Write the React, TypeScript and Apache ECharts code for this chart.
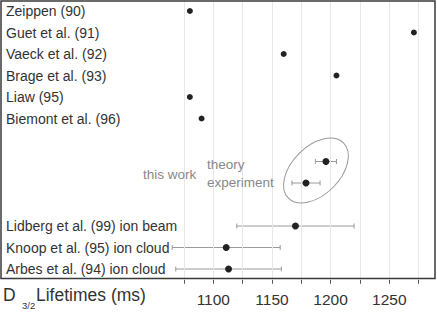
import React, { useEffect, useRef } from "react";
import * as echarts from "echarts";

const categories = [
  "Zeippen (90)",
  "Guet et al. (91)",
  "Vaeck et al. (92)",
  "Brage et al. (93)",
  "Liaw (95)",
  "Biemont et al. (96)",
  " ",
  "theory",
  "experiment",
  "  ",
  "Lidberg et al. (99) ion beam",
  "Knoop et al. (95) ion cloud",
  "Arbes et al. (94) ion cloud",
];
const pointValues: (number | null)[] = [1080, 1271, 1160, 1205, 1080, 1090, null, 1196, 1179, null, 1170, 1111, 1113];
const errLow: (number | null)[] = [null, null, null, null, null, null, null, 1187, 1167, null, 1120, 1065, 1068];
const errHigh: (number | null)[] = [null, null, null, null, null, null, null, 1205, 1191, null, 1220, 1157, 1158];
const gridTicks = [1075, 1100, 1125, 1150, 1175, 1200, 1225, 1250, 1275];
const labelTicks = [1100, 1150, 1200, 1250];
const xMin = 919;
const xMax = 1289;

const FONT = "'Liberation Sans', Arial, Helvetica, sans-serif";

export default function App() {
  const ref = useRef<HTMLDivElement>(null);
  useEffect(() => {
    if (!ref.current) return;
    const chart = echarts.init(ref.current, null, { renderer: "svg" });
    const scatterData = pointValues
      .map((v, i) => (v == null ? null : { value: [v, i], symbolSize: i < 6 ? 6 : 7 }))
      .filter((d) => d != null);
    const errData = errLow
      .map((lo, i) => (lo == null || errHigh[i] == null ? null : [lo, errHigh[i], i]))
      .filter((d) => d != null);
    const hidden = new Set(["theory", "experiment"]);
    chart.setOption({
      animation: false,
      grid: { left: 1, right: 2, top: 0.25, height: 279.5 },
      xAxis: {
        type: "value",
        min: xMin,
        max: xMax,
        axisLine: { show: false },
        splitLine: { show: false },
        axisTick: {
          show: true,
          length: 4,
          customValues: gridTicks,
          lineStyle: { color: "#555", width: 1 },
        },
        axisLabel: {
          customValues: labelTicks,
          margin: 12,
          fontSize: 15.5,
          color: "#333",
          fontFamily: FONT,
          formatter: (v: number) => String(v),
        },
      },
      yAxis: {
        type: "category",
        data: categories,
        inverse: true,
        axisLine: { show: false },
        axisTick: { show: false },
        splitLine: { show: false },
        axisLabel: {
          inside: true,
          interval: 0,
          margin: 5,
          fontSize: 14,
          color: "#333",
          fontFamily: FONT,
          formatter: (v: string) => (hidden.has(v) ? "" : v),
        },
      },
      series: [
        {
          type: "scatter",
          data: [],
          z: 1,
          silent: true,
          markLine: {
            silent: true,
            symbol: ["none", "none"],
            label: { show: false },
            lineStyle: { color: "#e8e8e8", type: "solid", width: 1 },
            data: gridTicks.map((t) => ({ xAxis: t })),
          },
        },
        {
          type: "custom",
          z: 2,
          data: errData,
          encode: { x: [0, 1], y: 2 },
          renderItem: (params: any, api: any) => {
            const lo = api.coord([api.value(0), api.value(2)]);
            const hi = api.coord([api.value(1), api.value(2)]);
            const h = 2.5;
            const st = { stroke: "#9a9a9a", lineWidth: 1 };
            return {
              type: "group",
              children: [
                { type: "line", shape: { x1: lo[0], y1: lo[1], x2: hi[0], y2: hi[1] }, style: st },
                { type: "line", shape: { x1: lo[0], y1: lo[1] - h, x2: lo[0], y2: lo[1] + h }, style: st },
                { type: "line", shape: { x1: hi[0], y1: hi[1] - h, x2: hi[0], y2: hi[1] + h }, style: st },
              ],
            };
          },
        },
        {
          type: "scatter",
          z: 3,
          data: scatterData,
          itemStyle: { color: "#222", opacity: 1 },
        },
      ],
    });
    const cx = chart.convertToPixel({ xAxisIndex: 0 }, 1187.5) as number;
    const y7 = chart.convertToPixel({ yAxisIndex: 0 }, 7) as number;
    const y8 = chart.convertToPixel({ yAxisIndex: 0 }, 8) as number;
    const cy = y7 + (y8 - y7) * 0.42;
    chart.setOption({
      graphic: [
        {
          type: "rect",
          shape: { x: 1, y: 1, width: 434, height: 277.5 },
          style: { fill: "none", stroke: "#3a3a3a", lineWidth: 1.5 },
          z: 100,
          silent: true,
        },
        {
          type: "ellipse",
          x: cx,
          y: cy,
          rotation: Math.PI / 4,
          shape: { cx: 0, cy: 0, rx: 39, ry: 24 },
          style: { fill: "none", stroke: "#999", lineWidth: 1 },
          z: 50,
          silent: true,
        },
        {
          type: "text",
          x: 143,
          y: 174.5,
          style: { text: "this work", fontSize: 13.5, fill: "#888", fontFamily: FONT, verticalAlign: "middle" },
          z: 50,
        },
        {
          type: "text",
          x: 207,
          y: 164,
          style: { text: "theory", fontSize: 13.5, fill: "#888", fontFamily: FONT, verticalAlign: "middle" },
          z: 50,
        },
        {
          type: "text",
          x: 207,
          y: 182,
          style: { text: "experiment", fontSize: 13.5, fill: "#888", fontFamily: FONT, verticalAlign: "middle" },
          z: 50,
        },
        {
          type: "text",
          x: 3,
          y: 294.5,
          style: { text: "D", fontSize: 17.5, fill: "#333", fontFamily: FONT, verticalAlign: "middle" },
          z: 50,
        },
        {
          type: "text",
          x: 22,
          y: 305,
          style: { text: "3/2", fontSize: 9.5, fill: "#333", fontFamily: FONT, verticalAlign: "middle" },
          z: 50,
        },
        {
          type: "text",
          x: 36,
          y: 294.5,
          style: { text: "Lifetimes (ms)", fontSize: 17.5, fill: "#333", fontFamily: FONT, verticalAlign: "middle" },
          z: 50,
        },
      ],
    });
    return () => chart.dispose();
  }, []);
  return (
    <div
      ref={ref}
      style={{ position: "fixed", left: 0, top: 0, width: 437, height: 312, background: "#fff" }}
    />
  );
}
